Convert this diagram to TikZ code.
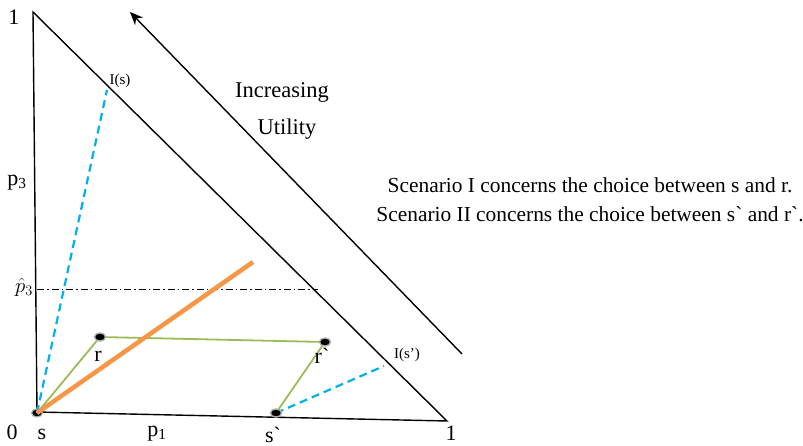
\documentclass[tikz,border=0pt]{standalone}
\usepackage{fontspec}
\setmainfont{Liberation Serif}
\usetikzlibrary{arrows.meta,shapes.geometric}
\definecolor{cblue}{HTML}{00B0F0}
\definecolor{cgreen}{HTML}{9BBB59}
\definecolor{corange}{HTML}{F79646}
\newcommand{\gravemark}{{\addfontfeature{Ligatures=TeXOff}\char"60}}
\begin{document}
\begin{tikzpicture}[x=1pt,y=-1pt,
  lbl/.style={font=\fontsize{22}{26}\selectfont, inner sep=0pt},
  big/.style={font=\fontsize{22.5}{27}\selectfont, inner sep=0pt},
  scen/.style={font=\fontsize{21.4}{29}\selectfont, inner sep=0pt},
  small/.style={font=\fontsize{15}{17}\selectfont, inner sep=0pt},
  tri/.style={black, line width=1.4pt},
  bluedash/.style={cblue, line width=2.2pt, dash pattern=on 8pt off 5pt},
  greenl/.style={cgreen, line width=1.8pt},
  pt/.style={ellipse, minimum width=11pt, minimum height=8pt, inner sep=0pt, fill=black,
     draw=gray!60, line width=1.2pt},
]
\useasboundingbox (0,0) rectangle (803,446);
% vertices
\coordinate (top) at (33,12);
\coordinate (o) at (37,412);
\coordinate (br) at (447,421);
\coordinate (is) at (107,90);
\coordinate (isp) at (384,366);
\coordinate (oend) at (253,262);
\coordinate (ph1) at (37,290);
\coordinate (ph2) at (318,290);
\coordinate (atail) at (462,354);
\coordinate (ahead) at (130,12);
% triangle
\draw[tri] (top) -- (o) -- (br) -- cycle;
% dash-dot p3hat
\draw[black, line width=1pt, dash pattern=on 7pt off 3pt on 1.5pt off 3pt] (ph1) -- (ph2);
% points
\node[pt] (s) at (37,413) {};
\node[pt] (r) at (100,337) {};
\node[pt] (rp) at (325,342) {};
\node[pt] (sp) at (276,413) {};
% blue dashed
\draw[bluedash] (s.center) -- (is);
\draw[bluedash] (sp.center) -- (isp);
% green
\draw[greenl] (s.center) -- (r.center) -- (rp.center) -- (sp.center);
% orange
\draw[corange, line width=4.5pt] (s.center) -- (oend);
% redraw points on top
\node[pt] at (r) {};
\node[pt] at (rp) {};
\node[pt] at (sp) {};
% arrow
\draw[black, line width=1.4pt, -{Stealth[length=13pt,width=11pt]}] (atail) -- (ahead);
% labels
\node[lbl] (one1) at (14,17) {1};
\node[lbl] (zero) at (12,432) {0};
\node[lbl] (one2) at (451,433) {1};
\node[lbl] (slbl) at (42,434) {s};
\node[lbl] (p1) at (157,434) {p\textsubscript{1}};
\node[lbl] (splbl) at (273,435) {s\gravemark};
\node[lbl] (rlbl) at (98,356) {r};
\node[lbl] (rplbl) at (322,356) {r\gravemark};
\node[lbl] (p3) at (17,183) {p\textsubscript{3}};
\node[lbl, anchor=east] (p3h) at (33,287) {$\hat{p}_3$};
\node[small] (islbl) at (120,81) {I(s)};
\node[small] (isplbl) at (407,355) {I(s')};
\node[big] (inc) at (282,92) {Increasing};
\node[big] (util) at (287,129) {Utility};
\node[scen, align=center] (scentext) at (590,200) {Scenario I concerns the choice between s and r.\\Scenario II concerns the choice between s\gravemark{} and r\gravemark.};
\end{tikzpicture}
\end{document}
